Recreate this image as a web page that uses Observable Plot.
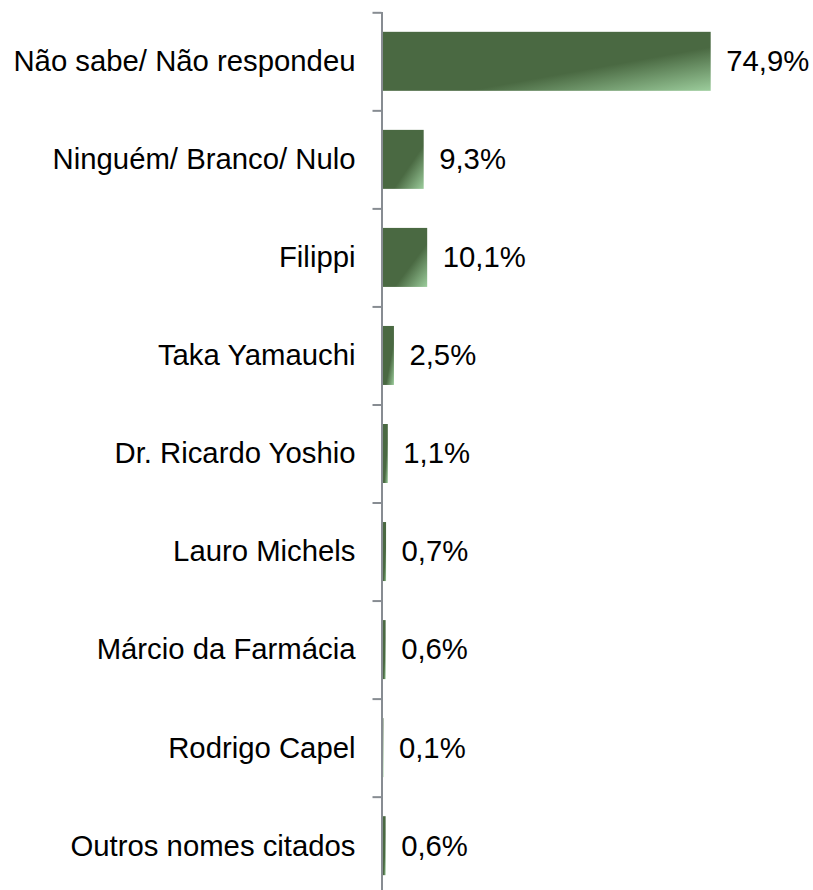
<!DOCTYPE html>
<html>
<head>
<meta charset="utf-8">
<script src="https://cdn.jsdelivr.net/npm/d3@7"></script>
<script src="https://cdn.jsdelivr.net/npm/@observablehq/plot@0.6"></script>
<style>
  html, body { margin: 0; padding: 0; background: #fff; }
  #chart svg { display: block; }
</style>
</head>
<body>
<div id="chart"></div>
<script>
const categories = [
  "Não sabe/ Não respondeu",
  "Ninguém/ Branco/ Nulo",
  "Filippi",
  "Taka Yamauchi",
  "Dr. Ricardo Yoshio",
  "Lauro Michels",
  "Márcio da Farmácia",
  "Rodrigo Capel",
  "Outros nomes citados"
];
const values = [74.9, 9.3, 10.1, 2.5, 1.1, 0.7, 0.6, 0.1, 0.6];
const valueLabels = ["74,9%", "9,3%", "10,1%", "2,5%", "1,1%", "0,7%", "0,6%", "0,1%", "0,6%"];

const data = categories.map((c, i) => ({category: c, value: values[i], label: valueLabels[i]}));

const W = 813, H = 890;
const yRange = [12.3, 894.7];
const step = (yRange[1] - yRange[0]) / categories.length;
const barH = 59;
const inset = (step - barH) / 2;
const font = "'Liberation Sans', Arial, sans-serif";
const axisColor = "#878c92";

const chart = Plot.plot({
  width: W,
  height: H,
  marginLeft: 383,
  marginRight: 80,
  marginTop: 12,
  marginBottom: 0,
  style: {fontFamily: font, background: "#fff"},
  x: {domain: [0, 80], axis: null},
  y: {domain: categories, range: yRange, padding: 0, round: false, axis: null},
  marks: [
    Plot.barX(data, {
      x: "value",
      y: "category",
      fill: "url(#barGrad)",
      insetTop: inset,
      insetBottom: inset
    }),
    Plot.ruleX([0], {stroke: axisColor, strokeWidth: 2, dx: -1.5}),
    Plot.ruleY(data, {
      y: "category",
      x1: 0,
      x2: 0,
      insetLeft: -9,
      dx: -1.5,
      dy: -step / 2,
      stroke: axisColor,
      strokeWidth: 2
    }),
    Plot.axisY({
      tickSize: 0,
      tickPadding: 28,
      fontSize: 29.3,
      fill: "#000",
      label: null
    }),
    Plot.text(data, {
      x: "value",
      y: "category",
      text: "label",
      dx: 15,
      textAnchor: "start",
      fontSize: 29.3,
      fill: "#000"
    })
  ]
});

const svg = d3.select(chart);
const defs = svg.insert("defs", ":first-child");
const grad = defs.append("linearGradient")
  .attr("id", "barGrad")
  .attr("x1", 0).attr("y1", 0).attr("x2", 1).attr("y2", 1);
grad.append("stop").attr("offset", 0).attr("stop-color", "#4a6942");
grad.append("stop").attr("offset", 0.63).attr("stop-color", "#4a6942");
grad.append("stop").attr("offset", 1).attr("stop-color", "#9ccd9c");

document.getElementById("chart").appendChild(chart);
</script>
</body>
</html>
